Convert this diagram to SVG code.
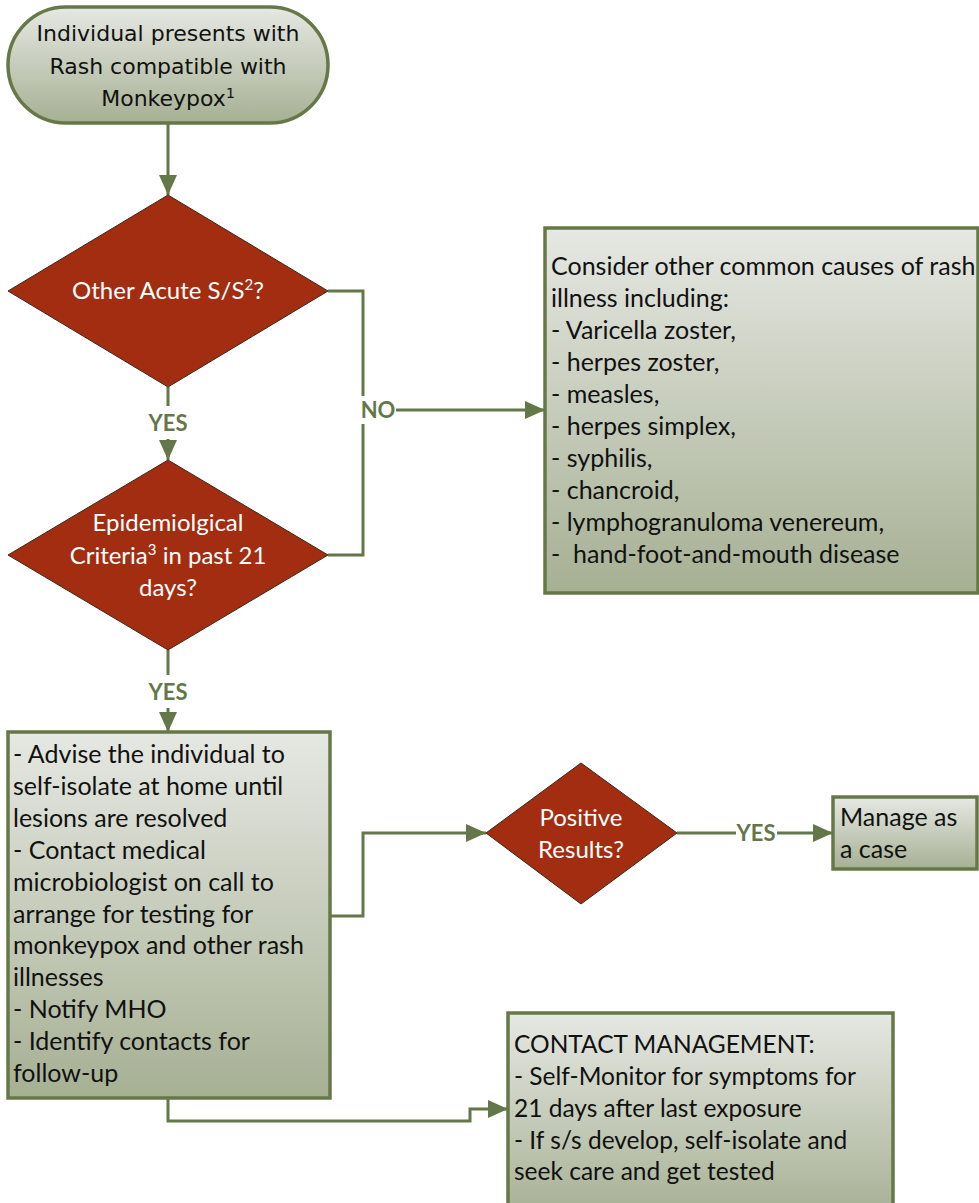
<svg xmlns="http://www.w3.org/2000/svg" width="979" height="1203" viewBox="0 0 979 1203">
<defs>
<linearGradient id="g" x1="0" y1="0" x2="0" y2="1">
<stop offset="0" stop-color="#e6e8e3"/>
<stop offset="1" stop-color="#a6b093"/>
</linearGradient>
<marker id="ah" markerUnits="userSpaceOnUse" markerWidth="20" markerHeight="18" refX="20" refY="9" orient="auto">
<path d="M0,0 L20,9 L0,18 z" fill="#647749"/>
</marker>
</defs>
<style>
.box{fill:url(#g);stroke:#667848;stroke-width:3.5}
.dia{fill:#a32d10;stroke:#3a2a20;stroke-width:1}
.t{font-family:Lato,"Liberation Sans",sans-serif;font-size:25px;fill:#111}
.t4{font-family:Lato,"Liberation Sans",sans-serif;font-size:24.5px;fill:#111}
.w{font-family:Lato,"Liberation Sans",sans-serif;font-size:24px;fill:#fff;text-anchor:middle}
.o{font-family:"DejaVu Sans",Verdana,sans-serif;font-size:22px;fill:#111;text-anchor:middle}
.lab{font-family:Lato,"Liberation Sans",sans-serif;font-size:22px;font-weight:bold;fill:#647749;text-anchor:middle}
.c{fill:none;stroke:#647749;stroke-width:3}
</style>
<rect width="979" height="1203" fill="#fff"/>
<g id="connectors">
<path class="c" d="M168,123 V195" marker-end="url(#ah)"/>
<path class="c" d="M168,387 V406"/>
<path class="c" d="M168,439 V460" marker-end="url(#ah)"/>
<path class="c" d="M328,291 H363 V396"/>
<path class="c" d="M363,424 V555 H328"/>
<path class="c" d="M396,410 H545" marker-end="url(#ah)"/>
<path class="c" d="M168,650 V675"/>
<path class="c" d="M168,708 V732" marker-end="url(#ah)"/>
<path class="c" d="M330,916 H363 V833 H486" marker-end="url(#ah)"/>
<path class="c" d="M677,833 H736"/>
<path class="c" d="M777,833 H833" marker-end="url(#ah)"/>
<path class="c" d="M168,1098 V1121 H470 V1109 H508" marker-end="url(#ah)"/>
<text class="lab" x="168" y="431">YES</text>
<text class="lab" x="378" y="418">NO</text>
<text class="lab" x="168" y="700">YES</text>
<text class="lab" x="756" y="841">YES</text>
</g>
<g id="start">
<rect class="box" x="8" y="7" width="320" height="116" rx="58" ry="58"/>
<text class="o" x="168" y="41">Individual presents with</text>
<text class="o" x="168" y="74">Rash compatible with</text>
<text class="o" x="168" y="106">Monkeypox<tspan dy="-8" font-size="14">1</tspan></text>
</g>
<g id="acute">
<polygon class="dia" points="168,195 328,291 168,387 8,291"/>
<text class="w" x="168" y="299">Other Acute S/S<tspan dy="-9" font-size="15">2</tspan><tspan dy="9">?</tspan></text>
</g>
<g id="epi">
<polygon class="dia" points="168,460 328,555 168,650 8,555"/>
<text class="w" x="168" y="531">Epidemiolgical</text>
<text class="w" x="168" y="564">Criteria<tspan dy="-9" font-size="15">3</tspan><tspan dy="9"> in past 21</tspan></text>
<text class="w" x="168" y="596">days?</text>
</g>
<g id="other-causes">
<rect class="box" x="545" y="228" width="433" height="365"/>
<text class="t" x="551" y="275">Consider other common causes of rash</text>
<text class="t" x="551" y="307">illness including:</text>
<text class="t" x="551" y="339">- Varicella zoster,</text>
<text class="t" x="551" y="371">- herpes zoster,</text>
<text class="t" x="551" y="403">- measles,</text>
<text class="t" x="551" y="435">- herpes simplex,</text>
<text class="t" x="551" y="467">- syphilis,</text>
<text class="t" x="551" y="499">- chancroid,</text>
<text class="t" x="551" y="531">- lymphogranuloma venereum,</text>
<text class="t" x="551" y="563" xml:space="preserve">-  hand-foot-and-mouth disease</text>
</g>
<g id="advise">
<rect class="box" x="8" y="732" width="322" height="366"/>
<text class="t" x="13" y="763">- Advise the individual to</text>
<text class="t" x="13" y="795">self-isolate at home until</text>
<text class="t" x="13" y="827">lesions are resolved</text>
<text class="t" x="13" y="859">- Contact medical</text>
<text class="t" x="13" y="891">microbiologist on call to</text>
<text class="t" x="13" y="923">arrange for testing for</text>
<text class="t" x="13" y="954">monkeypox and other rash</text>
<text class="t" x="13" y="986">illnesses</text>
<text class="t" x="13" y="1018">- Notify MHO</text>
<text class="t" x="13" y="1050">- Identify contacts for</text>
<text class="t" x="13" y="1082">follow-up</text>
</g>
<g id="positive">
<polygon class="dia" points="581,763 677,833 581,904 486,833"/>
<text class="w" x="581" y="826">Positive</text>
<text class="w" x="581" y="858">Results?</text>
</g>
<g id="manage">
<rect class="box" x="833" y="797" width="144" height="72"/>
<text class="t" x="840" y="826">Manage as</text>
<text class="t" x="840" y="858">a case</text>
</g>
<g id="contact-management">
<rect class="box" x="508" y="1013" width="385" height="205"/>
<text class="t4" x="514" y="1053">CONTACT MANAGEMENT:</text>
<text class="t4" x="514" y="1085">- Self-Monitor for symptoms for</text>
<text class="t4" x="514" y="1117">21 days after last exposure</text>
<text class="t4" x="514" y="1149">- If s/s develop, self-isolate and</text>
<text class="t4" x="514" y="1180">seek care and get tested</text>
</g>
</svg>
